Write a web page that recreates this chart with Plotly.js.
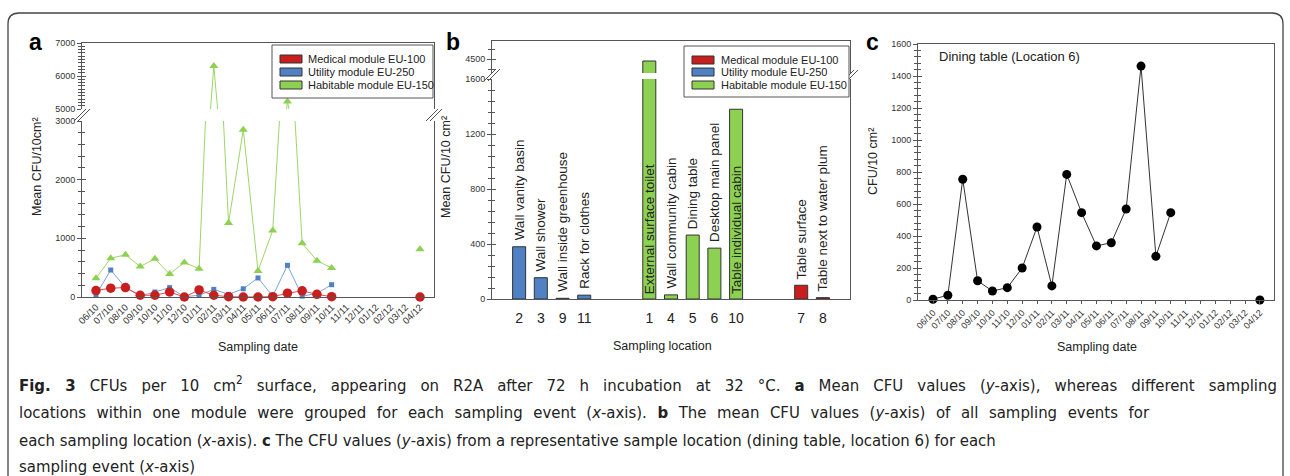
<!DOCTYPE html>
<html><head><meta charset="utf-8">
<script src="https://cdn.plot.ly/plotly-3.0.1.min.js"></script>
<style>html,body{margin:0;padding:0;background:#fff;}#chart{width:1290px;height:476px;}</style>
</head><body><div id="chart"></div>
<script>
// ---------- Panel a: mean CFU per module and sampling date ----------
const datesA = ['06/10','07/10','08/10','09/10','10/10','11/10','12/10','01/11','02/11','03/11','04/11','05/11','06/11','07/11','08/11','09/11','10/11','11/11','12/11','01/12','02/12','03/12','04/12'];
const medicalA   = [110,150,160,30,30,85,0,120,30,5,0,0,5,65,105,45,5,null,null,null,null,null,0];
const utilityA   = [35,460,160,20,85,160,5,30,130,45,140,325,15,540,15,60,210,null,null,null,null,null,null];
const habitableA = [320,660,720,520,650,390,590,480,6300,1260,2850,445,1135,5230,915,620,495,null,null,null,null,null,815];
const moduleNames = ['Medical module EU-100','Utility module EU-250','Habitable module EU-150'];

// ---------- Panel b: mean CFU per sampling location ----------
const locations     = ['2','3','9','11','1','4','5','6','10','7','8'];
const locationNames = ['Wall vanity basin','Wall shower','Wall inside greenhouse','Rack for clothes','External surface toilet','Wall community cabin','Dining table','Desktop main panel','Table individual cabin','Table surface','Table next to water plum'];
const locationModule = ['utility','utility','utility','utility','habitable','habitable','habitable','habitable','habitable','medical','medical'];
const meanCFU       = [380,155,5,28,4480,30,465,370,1380,100,10];

// ---------- Panel c: dining table (location 6) ----------
const datesC = ['06/10','07/10','08/10','09/10','10/10','11/10','12/10','01/11','02/11','03/11','04/11','05/11','06/11','07/11','08/11','09/11','10/11','11/11','12/11','01/12','02/12','03/12','04/12'];
const diningTable = [5,30,755,120,56,77,200,456,88,785,546,338,358,569,1462,273,546,null,null,null,null,null,0];

// ---------- styling ----------
const W = 1290, H = 476;
const px = x => x / W, py = y => 1 - y / H;
const SANS = "'Liberation Sans', Arial, sans-serif";
const CAP = "'Liberation Sans Narrow', 'DejaVu Sans Condensed', sans-serif";
const AX = '#555', TXT = '#222', TICK = '#333';
const COL = {medical:'#c81e1e', utility:'#4f81c4', habitable:'#8dd152'};
const LINE = {medical:'#e0474c', utility:'#79a5dc', habitable:'#9fd565'};

// slot positions for panel b (gap of 2 slots between modules)
const slots = []; let s = 0;
locationModule.forEach((m,i)=>{ if(i>0 && m!==locationModule[i-1]) s += 2; slots.push(s); s++; });

const traces = [];
// panel a lower
traces.push({x:datesA,y:habitableA,xaxis:'x',yaxis:'y',mode:'lines+markers',cliponaxis:false,
  line:{color:LINE.habitable,width:1},marker:{symbol:'triangle-up',size:8,color:COL.habitable}});
traces.push({x:datesA,y:utilityA,xaxis:'x',yaxis:'y',mode:'lines+markers',cliponaxis:false,
  line:{color:LINE.utility,width:1},marker:{symbol:'square',size:5,color:COL.utility}});
traces.push({x:datesA,y:medicalA,xaxis:'x',yaxis:'y',mode:'lines+markers',cliponaxis:false,
  line:{color:LINE.medical,width:1},marker:{symbol:'circle',size:9.5,color:COL.medical}});
// panel a upper
traces.push({x:datesA,y:habitableA,xaxis:'x2',yaxis:'y2',mode:'lines+markers',cliponaxis:true,
  line:{color:LINE.habitable,width:1},marker:{symbol:'triangle-up',size:8,color:COL.habitable}});

// panel b bars (lower and upper)
['utility','habitable','medical'].forEach(m=>{
  const xs=[], ys=[];
  locationModule.forEach((mm,i)=>{ if(mm===m){ xs.push(slots[i]); ys.push(meanCFU[i]); } });
  [['x3','y3'],['x4','y4']].forEach(([xa,ya])=>{
    traces.push({type:'bar',x:xs,y:ys,xaxis:xa,yaxis:ya,width:0.6,
      marker:{color:COL[m],line:{color:'#333',width:1}}});
  });
});

// panel c
traces.push({x:datesC,y:diningTable,xaxis:'x5',yaxis:'y5',mode:'lines+markers',cliponaxis:false,
  line:{color:'#333',width:1},marker:{symbol:'circle',size:9,color:'#000'}});

function yAx(dom, range, anchor, extra){
  return Object.assign({domain:dom,range:range,anchor:anchor,showgrid:false,zeroline:false,
    showline:true,linecolor:AX,linewidth:1,mirror:true,ticks:'outside',ticklen:4,tickcolor:AX,
    tickfont:{family:SANS,size:9,color:TICK},fixedrange:true}, extra);
}
function yIn(over, range, anchor, extra){
  return Object.assign({overlaying:over,range:range,anchor:anchor,side:'left',showgrid:false,zeroline:false,
    showline:false,showticklabels:false,ticks:'inside',ticklen:4,tickcolor:AX},extra);
}
const layout = {
  width:W,height:H,margin:{l:0,r:0,t:0,b:0},paper_bgcolor:'#fff',plot_bgcolor:'rgba(0,0,0,0)',
  showlegend:false,barmode:'overlay',hovermode:false,
  xaxis:{domain:[px(82),px(434)],anchor:'y',type:'category',categoryorder:'array',categoryarray:datesA,
    range:[-0.95,22.95],tickangle:-45,ticks:'',showline:true,linecolor:AX,showgrid:false,zeroline:false,
    tickfont:{family:SANS,size:9.5,color:TICK}},
  xaxis2:{domain:[px(82),px(434)],anchor:'y2',type:'category',categoryorder:'array',categoryarray:datesA,
    range:[-0.95,22.95],side:'top',showticklabels:false,ticks:'',showline:true,linecolor:AX,showgrid:false,zeroline:false},
  yaxis:yAx([py(297),py(121)],[0,3000],'x',{dtick:1000,minor:{dtick:200,ticks:'outside',ticklen:3,tickcolor:AX}}),
  yaxis2:yAx([py(109),py(43)],[5000,7000],'x2',{dtick:1000,minor:{dtick:100,ticks:'outside',ticklen:3,tickcolor:AX}}),
  xaxis3:{domain:[px(492),px(850)],anchor:'y3',range:[-1.25,15.25],tickvals:slots,ticktext:locations,ticks:'',
    showline:true,linecolor:AX,showgrid:false,zeroline:false,ticklabelstandoff:6,tickfont:{family:SANS,size:14,color:TXT}},
  xaxis4:{domain:[px(492),px(850)],anchor:'y4',range:[-1.25,15.25],side:'top',showticklabels:false,ticks:'',
    showline:true,linecolor:AX,showgrid:false,zeroline:false},
  yaxis3:yAx([py(299),py(79)],[0,1600],'x3',{dtick:400,minor:{dtick:80,ticks:'outside',ticklen:3,tickcolor:AX}}),
  yaxis4:yAx([py(73),py(41)],[4360,4680],'x4',{tickvals:[4500],minor:{dtick:100,ticks:'outside',ticklen:3,tickcolor:AX}}),
  xaxis5:{domain:[px(918),px(1274)],anchor:'y5',type:'category',categoryorder:'array',categoryarray:datesC,
    range:[-1.01,22.95],tickangle:-45,ticks:'outside',ticklen:3,tickcolor:AX,showline:true,mirror:true,linecolor:AX,
    showgrid:false,zeroline:false,tickfont:{family:SANS,size:9,color:TICK}},
  yaxis5:yAx([py(300),py(44)],[0,1600],'x5',{dtick:200,minor:{dtick:40,ticks:'outside',ticklen:3,tickcolor:AX}}),
  // inside halves of the crossing ticks
  yaxis6:yIn('y',[0,3000],'x',{dtick:1000,minor:{dtick:200,ticks:'inside',ticklen:3,tickcolor:AX}}),
  yaxis7:yIn('y2',[5000,7000],'x2',{dtick:1000,minor:{dtick:100,ticks:'inside',ticklen:3,tickcolor:AX}}),
  yaxis8:yIn('y3',[0,1600],'x3',{dtick:400,minor:{dtick:80,ticks:'inside',ticklen:3,tickcolor:AX}}),
  yaxis9:yIn('y4',[4360,4680],'x4',{tickvals:[4500],minor:{dtick:100,ticks:'inside',ticklen:3,tickcolor:AX}}),
  yaxis10:yIn('y5',[0,1600],'x5',{dtick:200,minor:{dtick:40,ticks:'inside',ticklen:3,tickcolor:AX}}),
  shapes:[], annotations:[]
};
// dummy traces so overlay axes exist
[['x','y6'],['x2','y7'],['x3','y8'],['x4','y9'],['x5','y10']].forEach(([xa,ya])=>{
  traces.push({x:[],y:[],xaxis:xa,yaxis:ya,mode:'markers',showlegend:false});
});

const S = layout.shapes, A = layout.annotations;
// outer frame with rounded top corners
S.push({type:'path',xref:'paper',yref:'paper',line:{color:'#444',width:1.3},
  path:`M${px(8)},${py(480)} L${px(8)},${py(24)} Q${px(8)},${py(13)} ${px(19)},${py(13)} L${px(1272)},${py(13)} Q${px(1283)},${py(13)} ${px(1283)},${py(24)} L${px(1283)},${py(480)}`});
// axis breaks
function brk(cx, cy){
  [-2,2].forEach(d=>S.push({type:'line',xref:'paper',yref:'paper',x0:px(cx-6+d),y0:py(cy+6),x1:px(cx+6+d),y1:py(cy-6),line:{color:AX,width:1}}));
}
brk(82,115); brk(434,115); brk(492,75); brk(850,76);
// legends
function legend(x0,x1,y0,y1,sx,tx,rows){
  S.push({type:'rect',xref:'paper',yref:'paper',x0:px(x0),x1:px(x1),y0:py(y1),y1:py(y0),fillcolor:'#fff',line:{color:AX,width:1}});
  ['medical','utility','habitable'].forEach((m,i)=>{
    S.push({type:'rect',xref:'paper',yref:'paper',x0:px(sx),x1:px(sx+22),y0:py(rows[i]+4),y1:py(rows[i]-4),fillcolor:COL[m],line:{color:'#333',width:1}});
    A.push({xref:'paper',yref:'paper',x:px(tx),y:py(rows[i]),xanchor:'left',yanchor:'middle',showarrow:false,
      text:moduleNames[i],font:{family:SANS,size:11,color:TXT}});
  });
}
legend(272,433,45,98,280,306,[59,72,85]);
legend(684,849,46,97,692,719,[60,72,85]);

// panel labels
[['a',35,42],['b',453,42],['c',872,42]].forEach(([t,x,y])=>A.push({xref:'paper',yref:'paper',x:px(x),y:py(y),
  xanchor:'center',yanchor:'middle',showarrow:false,text:'<b>'+t+'</b>',font:{family:SANS,size:23,color:'#000'}}));
// axis titles
[['Mean CFU/10cm²',37,167],['Mean CFU/10 cm²',446,167],['CFU/10 cm²',873,162]].forEach(([t,x,y])=>A.push({xref:'paper',yref:'paper',
  x:px(x),y:py(y),textangle:-90,xanchor:'center',yanchor:'middle',showarrow:false,text:t,font:{family:SANS,size:12.5,color:TXT}}));
[['Sampling date',258,347],['Sampling location',662,346],['Sampling date',1097,347]].forEach(([t,x,y])=>A.push({xref:'paper',yref:'paper',
  x:px(x),y:py(y),xanchor:'center',yanchor:'middle',showarrow:false,text:t,font:{family:SANS,size:12.5,color:TXT}}));
A.push({xref:'paper',yref:'paper',x:px(937),y:py(56),xanchor:'left',yanchor:'middle',showarrow:false,
  text:'Dining table (Location 6)',font:{family:SANS,size:13,color:TXT}});
// bar labels (panel b)
locationNames.forEach((t,i)=>{
  const inside = meanCFU[i] > 1000;
  A.push({xref:'x3',yref:'y3',x:slots[i],y:inside?0:meanCFU[i],yshift:inside?3:4,textangle:-90,
    xanchor:'center',yanchor:'bottom',showarrow:false,text:t,font:{family:SANS,size:13.5,color:TXT}});
});
// caption (lines 1-2 are justified to the full text width)
const caption = [
  "<b>Fig. 3</b> CFUs per 10 cm<sup>2</sup> surface, appearing on R2A after 72 h incubation at 32 °C. <b>a</b> Mean CFU values (<i>y</i>-axis), whereas different sampling",
  "locations within one module were grouped for each sampling event (<i>x</i>-axis). <b>b</b> The mean CFU values (<i>y</i>-axis) of all sampling events for",
  "each sampling location (<i>x</i>-axis). <b>c</b> The CFU values (<i>y</i>-axis) from a representative sample location (dining table, location 6) for each",
  "sampling event (<i>x</i>-axis)"
];
const capY = [384,412,440,466];
const capRight = [1275, 1148, null, null];
const capStart = A.length;
caption.forEach((t,i)=>A.push({xref:'paper',yref:'paper',x:px(17),y:py(capY[i]),xanchor:'left',yanchor:'middle',align:'left',
  showarrow:false,text:t,font:{family:CAP,size:16.6,color:'#222'}}));

Plotly.newPlot('chart',traces,layout,{staticPlot:true,displayModeBar:false}).then(gd=>{
  capRight.forEach((r,i)=>{
    if(r===null) return;
    const g = gd.querySelector('.annotation[data-index="'+(capStart+i)+'"] text.annotation-text');
    if(!g) return;
    const bb = g.getBBox();
    const gaps = (g.textContent.match(/ /g)||[]).length;
    const extra = (r - 17) - bb.width;
    if(gaps>0 && extra>0){
      g.setAttribute('text-anchor','start');
      g.style.wordSpacing = (extra/gaps).toFixed(2)+'px';
    }
  });
});
</script></body></html>
